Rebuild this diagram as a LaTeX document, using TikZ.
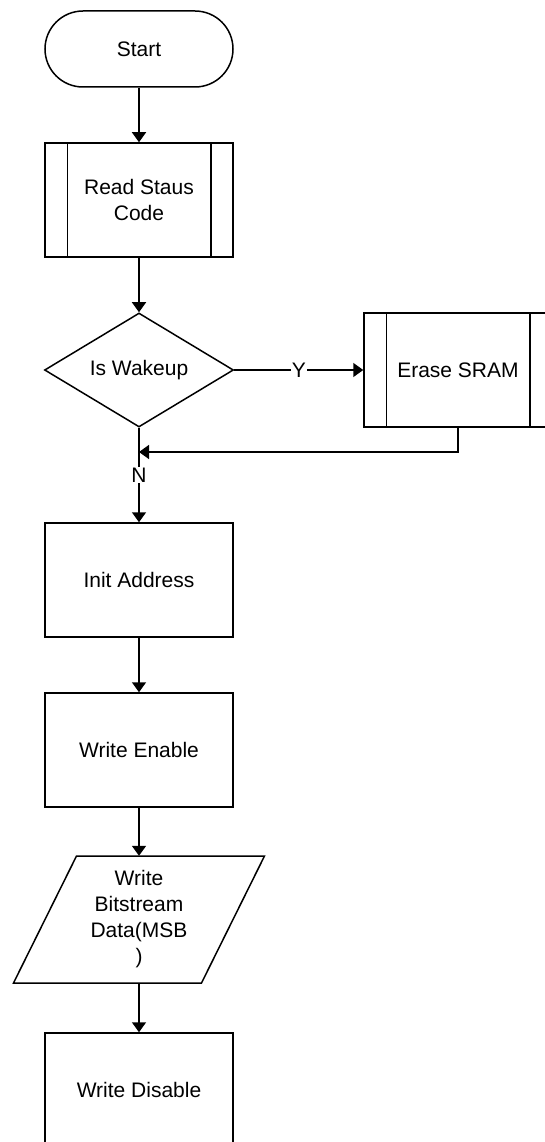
\documentclass[tikz,border=0pt]{standalone}
\usepackage{fontspec}
\setmainfont{Liberation Sans}
\usetikzlibrary{shapes.geometric,arrows.meta}
\begin{document}
\begin{tikzpicture}[x=1pt,y=-1pt,
  every node/.style={font=\fontsize{21}{26}\selectfont},
  line/.style={line width=1.5pt},
  arr/.style={line, -{Triangle[width=14pt,length=10pt]}},
  procbox/.style={draw, line width=1.5pt, minimum width=188pt, minimum height=114pt, inner sep=0pt, align=center},
  termbox/.style={draw, line width=1.5pt, rounded corners=38pt, minimum width=188pt, minimum height=76pt, inner sep=0pt},
  decbox/.style={draw, diamond, aspect=1.66, line width=1.5pt, minimum width=189pt, minimum height=114pt, inner sep=0pt},
  lbl/.style={fill=white, inner sep=1pt}
]
\useasboundingbox (0,0) rectangle (544,1142);

\node[termbox] (start) at (139,49) {Start};
\node[procbox] (read) at (139,200) {Read Staus\\Code};
\draw[line] ([xshift=23pt]read.north west) -- ([xshift=23pt]read.south west);
\draw[line] ([xshift=-23pt]read.north east) -- ([xshift=-23pt]read.south east);

\node[decbox] (dec) at (139,370) {Is Wakeup};

\node[procbox] (erase) at (458,370) {Erase SRAM};
\draw[line] ([xshift=23pt]erase.north west) -- ([xshift=23pt]erase.south west);
\draw[line] ([xshift=-23pt]erase.north east) -- ([xshift=-23pt]erase.south east);

\coordinate (fb) at (139,452);

\node[procbox] (init) at (139,580) {Init Address};
\node[procbox] (wen) at (139,750) {Write Enable};

\node[minimum width=124pt, minimum height=127pt, inner sep=0pt, align=center] (wb) at (139,919.5) {Write\\Bitstream\\Data(MSB\\)};
\draw[line] (76.5,856) -- (264.5,856) -- (201.5,983) -- (13.5,983) -- cycle;

\node[procbox] (wdis) at (139,1090) {Write Disable};

\draw[arr] (start) -- (read);
\draw[arr] (read) -- (dec);
\draw[arr] (dec.east) -- node[lbl] {Y} (erase.west);
\draw[arr] (erase.south) |- (fb);
\draw[arr] (dec.south) -- node[lbl] {N} (init.north);
\draw[arr] (init) -- (wen);
\draw[arr] (wen) -- (wb.north);
\draw[arr] (wb.south) -- (wdis);
\end{tikzpicture}
\end{document}
